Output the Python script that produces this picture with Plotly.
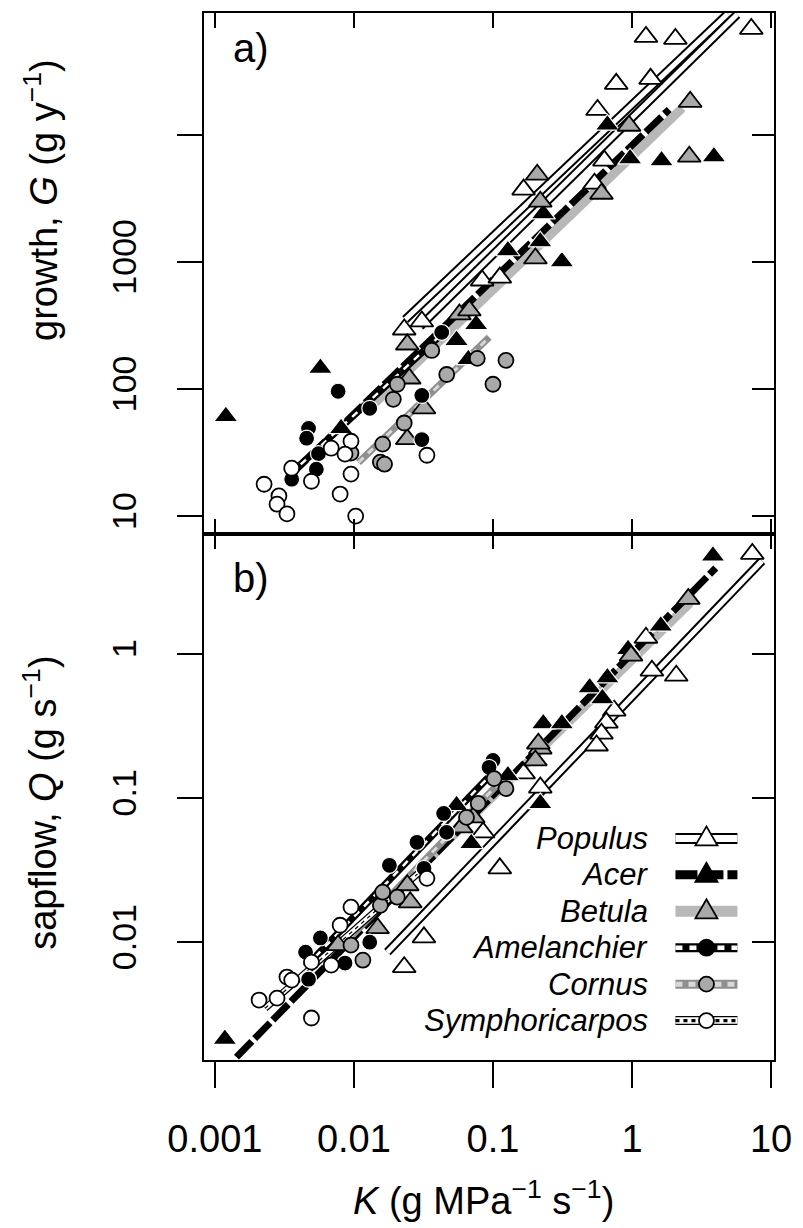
import numpy as np
import plotly.graph_objects as go

species = ["Populus", "Acer", "Betula", "Amelanchier", "Cornus", "Symphoricarpos"]

# ---------------- Panel a: growth G (g y-1) vs K ----------------
populus_a_K = [1.26, 2.05, 7.21, 0.77, 1.36, 0.565, 0.633, 0.537, 0.166, 0.0836, 0.112, 0.0230, 0.0308]
populus_a_G = [59000, 56900, 68200, 25200, 27600, 15700, 6270, 4130, 3710, 714, 753, 294, 340]
acer_a_K = [0.665, 0.968, 1.63, 3.88, 0.230, 0.219, 0.128, 0.313, 0.0757, 0.0547, 0.0665, 0.00574, 0.0012, 0.00809]
acer_a_G = [12000, 6490, 6270, 6730, 2400, 1445, 1230, 1007, 322, 242, 171, 146, 61, 49]
betula_a_K = [2.62, 0.952, 0.208, 0.219, 0.603, 2.58, 0.202, 0.0574, 0.0676, 0.0242, 0.0250, 0.0319, 0.0242]
betula_a_G = [18200, 11800, 4860, 2980, 3440, 6730, 1065, 386, 415, 224, 121, 70.5, 40.3]
amel_a_K = [0.0428, 0.0308, 0.0077, 0.0130, 0.00472, 0.00457, 0.0308, 0.00556, 0.00537, 0.00357]
amel_a_G = [279, 89, 96, 70.5, 49, 41, 40, 31, 23.4, 19.5]
cornus_a_K = [0.0363, 0.0771, 0.124, 0.0465, 0.100, 0.0205, 0.0192, 0.0230, 0.0161, 0.00953, 0.0155, 0.0166]
cornus_a_G = [201, 174, 168, 130, 109, 109, 83, 54, 36.8, 31.3, 26.6, 25.6]
symph_a_K = [0.0335, 0.00687, 0.00953, 0.00863, 0.00357, 0.00495, 0.00953, 0.00226, 0.00289, 0.00280, 0.00330, 0.00796, 0.0103]
symph_a_G = [30.1, 34.2, 38.8, 30.7, 23.8, 18.8, 21.4, 17.8, 14.4, 12.4, 10.4, 14.9, 10.0]

# ---------------- Panel b: sapflow Q (g s-1) vs K ----------------
populus_b_K = [7.33, 1.26, 1.39, 2.08, 0.745, 0.654, 0.603, 0.556, 0.219, 0.166, 0.0849, 0.112, 0.0319, 0.0230]
populus_b_Q = [4.92, 1.29, 0.763, 0.704, 0.403, 0.333, 0.279, 0.231, 0.118, 0.148, 0.0577, 0.0325, 0.0108, 0.00671]
acer_b_K = [3.82, 1.61, 0.665, 0.496, 0.612, 0.230, 0.313, 0.128, 0.219, 0.0547, 0.0698, 0.00118, 0.937]
acer_b_Q = [4.77, 1.56, 0.682, 0.582, 0.489, 0.328, 0.328, 0.143, 0.0916, 0.0887, 0.0484, 0.00213, 1.07]
betula_b_K = [2.54, 0.984, 0.219, 0.202, 0.0721, 0.0593, 0.0242, 0.0254, 0.0148, 0.0077, 0.212]
betula_b_Q = [2.40, 0.969, 0.220, 0.182, 0.0733, 0.0625, 0.0248, 0.0189, 0.0125, 0.00953, 0.238]
amel_b_K = [0.100, 0.0937, 0.0442, 0.0464, 0.0284, 0.0180, 0.0319, 0.0130, 0.00574, 0.00449, 0.00863, 0.00472]
amel_b_Q = [0.182, 0.163, 0.0781, 0.0577, 0.0492, 0.0341, 0.0325, 0.0100, 0.0107, 0.00853, 0.00716, 0.00554]
cornus_b_K = [0.102, 0.124, 0.0783, 0.0645, 0.0155, 0.0161, 0.0205, 0.00953, 0.0116]
cornus_b_Q = [0.136, 0.116, 0.0916, 0.0733, 0.0180, 0.0222, 0.0205, 0.00953, 0.0075]
symph_b_K = [0.00495, 0.00208, 0.00280, 0.00330, 0.00357, 0.00687, 0.00495, 0.00796, 0.00953, 0.0335]
symph_b_Q = [0.00298, 0.00397, 0.00409, 0.00573, 0.00546, 0.00693, 0.00727, 0.0131, 0.0175, 0.0277]

# ---------------- Fitted power laws: log10(y) = a + b*log10(K) ----------------
fit_a_species = ["Populus", "Populus", "Betula", "Acer", "Cornus", "Amelanchier"]
fit_a_int = [4.238, 4.134, 3.831, 3.918, 3.483, 3.815]
fit_a_slope = [1.037, 1.076, 1.050, 1.057, 1.048, 1.011]
fit_a_kmin = [0.0234, 0.0299, 0.0134, 0.0035, 0.0108, 0.0035]
fit_a_kmax = [4.9, 5.7, 2.3, 1.85, 0.094, 0.045]

fit_b_species = ["Populus", "Betula", "Acer", "Cornus", "Amelanchier", "Symphoricarpos"]
fit_b_int = [-0.298, -0.043, 0.002, 0.06, 0.176, -0.216]
fit_b_slope = [1.007, 0.946, 0.984, 1.0, 1.0, 0.85]
fit_b_kmin = [0.0174, 0.0205, 0.00143, 0.0095, 0.0045, 0.0023]
fit_b_kmax = [8.6, 2.62, 4.0, 0.124, 0.1, 0.034]

x_tickvals = [0.001, 0.01, 0.1, 1, 10]
x_ticktext = ["0.001", "0.01", "0.1", "1", "10"]
ya_tickvals = [10, 100, 1000, 10000]
ya_ticktext = ["10", "100", "1000", ""]
yb_tickvals = [0.01, 0.1, 1]
yb_ticktext = ["0.01", "0.1", "1"]

GRAY = "#a9a9a9"
marker_style = {
    "Populus": dict(symbol="triangle-up", size=20, color="white", line=dict(color="black", width=1.8)),
    "Acer": dict(symbol="triangle-up", size=21, color="black", line=dict(color="white", width=1.2)),
    "Betula": dict(symbol="triangle-up", size=20, color=GRAY, line=dict(color="black", width=1.8)),
    "Amelanchier": dict(symbol="circle", size=16, color="black", line=dict(color="white", width=1.2)),
    "Cornus": dict(symbol="circle", size=15, color=GRAY, line=dict(color="black", width=1.8)),
    "Symphoricarpos": dict(symbol="circle", size=15, color="white", line=dict(color="black", width=1.8)),
}
line_layers = {
    "Populus": [dict(color="black", width=9), dict(color="white", width=5)],
    "Acer": [dict(color="black", width=7, dash="22px,4px")],
    "Betula": [dict(color="#b8b8b8", width=9)],
    "Amelanchier": [dict(color="black", width=7), dict(color="white", width=2.5, dash="7px,7px")],
    "Cornus": [dict(color="#8f8f8f", width=7), dict(color="#d8d8d8", width=3, dash="7px,6px")],
    "Symphoricarpos": [dict(color="black", width=7), dict(color="white", width=4.5),
                       dict(color="black", width=1.2, dash="4px,4px")],
}

fig = go.Figure()


def add_fits(names, ints, slopes, kmins, kmaxs, xa, ya):
    for n, a, b, k0, k1 in zip(names, ints, slopes, kmins, kmaxs):
        K = np.array([k0, k1])
        Y = 10 ** a * K ** b
        for ln in line_layers[n]:
            fig.add_trace(go.Scatter(x=K, y=Y, mode="lines", line=ln, xaxis=xa, yaxis=ya,
                                     showlegend=False, hoverinfo="skip"))


def add_points(data, xa, ya):
    for n, K, Y in data:
        fig.add_trace(go.Scatter(x=K, y=Y, mode="markers", marker=marker_style[n], name=n,
                                 xaxis=xa, yaxis=ya, showlegend=False))


add_fits(fit_a_species, fit_a_int, fit_a_slope, fit_a_kmin, fit_a_kmax, "x", "y")
add_fits(fit_b_species, fit_b_int, fit_b_slope, fit_b_kmin, fit_b_kmax, "x2", "y2")

add_points([("Populus", populus_a_K, populus_a_G), ("Acer", acer_a_K, acer_a_G),
            ("Betula", betula_a_K, betula_a_G), ("Amelanchier", amel_a_K, amel_a_G),
            ("Cornus", cornus_a_K, cornus_a_G), ("Symphoricarpos", symph_a_K, symph_a_G)], "x", "y")
add_points([("Populus", populus_b_K, populus_b_Q), ("Acer", acer_b_K, acer_b_Q),
            ("Betula", betula_b_K, betula_b_Q), ("Amelanchier", amel_b_K, amel_b_Q),
            ("Cornus", cornus_b_K, cornus_b_Q), ("Symphoricarpos", symph_b_K, symph_b_Q)], "x2", "y2")

# empty traces so the mirror axes are drawn
fig.add_trace(go.Scatter(x=[], y=[], xaxis="x", yaxis="y3", showlegend=False))
fig.add_trace(go.Scatter(x=[], y=[], xaxis="x4", yaxis="y2", showlegend=False))
fig.add_trace(go.Scatter(x=[], y=[], xaxis="x2", yaxis="y4", showlegend=False))

FONT = "Liberation Sans, Arial, sans-serif"
XR = [-3.078, 1.021]
YAR = [0.859, 4.959]
YBR = [-2.817, 0.830]
SPLIT = 0.5024
common = dict(type="log", showgrid=False, zeroline=False, showline=True, linecolor="black",
              linewidth=2, tickcolor="black", tickwidth=2)

fig.update_layout(
    width=803, height=1228, margin=dict(l=204, r=21, t=11, b=168),
    paper_bgcolor="white", plot_bgcolor="white", showlegend=False,
    font=dict(family=FONT, color="black"),
    xaxis=dict(common, domain=[0, 1], anchor="y", range=XR, tickvals=x_tickvals,
               showticklabels=False, ticks="inside", ticklen=15, mirror="ticks"),
    yaxis=dict(common, domain=[SPLIT, 1], anchor="x", range=YAR, tickvals=ya_tickvals,
               ticktext=ya_ticktext, ticks="outside", ticklen=25, tickangle=-90,
               tickfont=dict(size=34, family=FONT), ticklabelstandoff=27),
    yaxis3=dict(common, overlaying="y", side="right", anchor="x", range=YAR, tickvals=ya_tickvals,
                showticklabels=False, ticks="inside", ticklen=22),
    xaxis2=dict(common, domain=[0, 1], anchor="y2", range=XR, tickvals=x_tickvals,
                ticktext=x_ticktext, ticks="outside", ticklen=26,
                tickfont=dict(size=38, family=FONT), ticklabelstandoff=18),
    xaxis4=dict(common, overlaying="x2", side="top", anchor="y2", range=XR, tickvals=x_tickvals,
                showticklabels=False, ticks="inside", ticklen=15),
    yaxis2=dict(common, domain=[0, SPLIT], anchor="x2", range=YBR, tickvals=yb_tickvals,
                ticktext=yb_ticktext, ticks="outside", ticklen=25, tickangle=-90,
                tickfont=dict(size=34, family=FONT), ticklabelstandoff=27),
    yaxis4=dict(common, overlaying="y2", side="right", anchor="x2", range=YBR, tickvals=yb_tickvals,
                showticklabels=False, ticks="inside", ticklen=22),
)

# ---------- text ----------
W0, W = 204, 578
H1, H = 1060, 1049


def px2paper(px, py):
    return (px - W0) / W, (H1 - py) / H


ann = []
for txt, (px, py) in [("a)", (252, 46)), ("b)", (252, 577))]:
    x, y = px2paper(px, py)
    ann.append(dict(text=txt, x=x, y=y, xref="paper", yref="paper", showarrow=False,
                    font=dict(size=40, family=FONT), xanchor="center", yanchor="middle"))
x, y = px2paper(38, 198)
ann.append(dict(text="growth, <i>G</i> (g y<sup>\u22121</sup>)", x=x, y=y, xref="paper", yref="paper",
                showarrow=False, textangle=-90, xanchor="center", yanchor="middle",
                font=dict(size=38, family=FONT)))
x, y = px2paper(38, 802)
ann.append(dict(text="sapflow, <i>Q</i> (g s<sup>\u22121</sup>)", x=x, y=y, xref="paper", yref="paper",
                showarrow=False, textangle=-90, xanchor="center", yanchor="middle",
                font=dict(size=38, family=FONT)))
x, y = px2paper(487, 1198)
ann.append(dict(text="<i>K</i> (g MPa<sup>\u22121</sup> s<sup>\u22121</sup>)", x=x, y=y, xref="paper",
                yref="paper", showarrow=False, xanchor="center", yanchor="middle",
                font=dict(size=38, family=FONT)))

# ---------- legend (drawn manually: names left, samples right) ----------
leg_y = [838, 874.5, 911, 947.5, 984, 1020.5]
shapes = []
for n, py in zip(species, leg_y):
    x, y = px2paper(656, py)
    ann.append(dict(text="<i>" + n + "</i>", x=x, y=y, xref="paper", yref="paper", showarrow=False,
                    xanchor="right", yanchor="middle", font=dict(size=31, family=FONT)))
    ax, ay = px2paper(713.5, py)
    for ln in line_layers[n]:
        lw = dict(ln)
        lw["width"] = lw["width"] + 2
        shapes.append(dict(type="line", xref="paper", yref="paper", xsizemode="pixel",
                           ysizemode="pixel", xanchor=ax, yanchor=ay, x0=-31, x1=31, y0=0, y1=0,
                           line=lw, layer="above"))
    ms = marker_style[n]
    if ms["symbol"] == "circle":
        r = ms["size"] / 2
        shapes.append(dict(type="circle", xref="paper", yref="paper", xsizemode="pixel",
                           ysizemode="pixel", xanchor=ax, yanchor=ay, x0=-r, x1=r, y0=-r, y1=r,
                           fillcolor=ms["color"], line=dict(color="black", width=1.8), layer="above"))
    else:
        shapes.append(dict(type="path", xref="paper", yref="paper", xsizemode="pixel",
                           ysizemode="pixel", xanchor=ax, yanchor=ay,
                           path="M -11,-7 L 11,-7 L 0,12 Z",
                           fillcolor=ms["color"], line=dict(color="black", width=1.8), layer="above"))

fig.update_layout(annotations=ann, shapes=shapes)
fig.write_html("out.html")
